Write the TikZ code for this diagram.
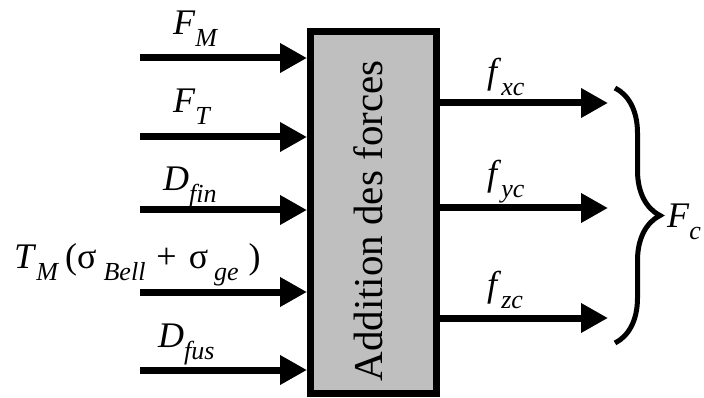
\documentclass[tikz,border=0pt]{standalone}
\usepackage{fontspec}
\setmainfont{Liberation Serif}
\usetikzlibrary{arrows.meta, decorations.pathreplacing}

\newcommand{\sub}[1]{\raisebox{-12pt}{\fontsize{26}{26}\selectfont\textit{#1}}}
\newcommand{\idx}[2]{\textit{#1}\sub{#2}}

\begin{document}
\begin{tikzpicture}[x=1pt, y=-1pt,
    every node/.style={font=\fontsize{36}{40}\selectfont},
    flow/.style={line width=7pt, -{Triangle[length=27pt,width=28pt]}},
    lab/.style={anchor=base west, inner sep=0pt}]
    \useasboundingbox (0,0) rectangle (704,398);

    % Bloc central
    \node[draw, line width=7pt, fill=black!25, minimum width=126pt,
          minimum height=362pt, inner sep=0pt] (add) at (373.5,212.5) {};
    \node[rotate=90, font=\fontsize{41}{44}\selectfont] (addtxt) at (368,221)
        {Addition des forces};

    % Entrées
    \foreach \y [count=\i] in {58,137,210,292,370} {
        \coordinate (in\i) at (140,\y);
        \draw[flow] (in\i) -- (in\i -| add.west);
    }
    \node[lab] (fm)  at (173,35)  {\idx{F}{M}};
    \node[lab] (ft)  at (173,113) {\idx{F}{T}};
    \node[lab] (dfin) at (163,191) {\idx{D}{fin}};
    \node[lab] (tm)  at (14,268)
        {\idx{T}{M}\hspace{6pt}(σ\hspace{7pt}\sub{Bell}\hspace{11pt}+\hspace{12pt}σ\hspace{6pt}\sub{ge}\hspace{10pt})};
    \node[lab] (dfus) at (158,347) {\idx{D}{fus}};

    % Sorties
    \foreach \y [count=\i] in {103,208,318} {
        \coordinate (out\i) at (608,\y);
        \draw[flow] (out\i -| add.east) -- (out\i);
    }
    \node[lab] (fxc) at (487,84)  {\idx{f}{xc}};
    \node[lab] (fyc) at (487,186) {\idx{f}{yc}};
    \node[lab] (fzc) at (487,296) {\idx{f}{zc}};

    % Accolade
    \coordinate (btop) at (615,88);
    \coordinate (bbot) at (615,343);
    \draw[line width=5pt, decorate, decoration={brace, amplitude=45pt}]
        (btop) -- (bbot);
    \node[lab] (fc) at (667,228) {\idx{F}{c}};
\end{tikzpicture}
\end{document}
